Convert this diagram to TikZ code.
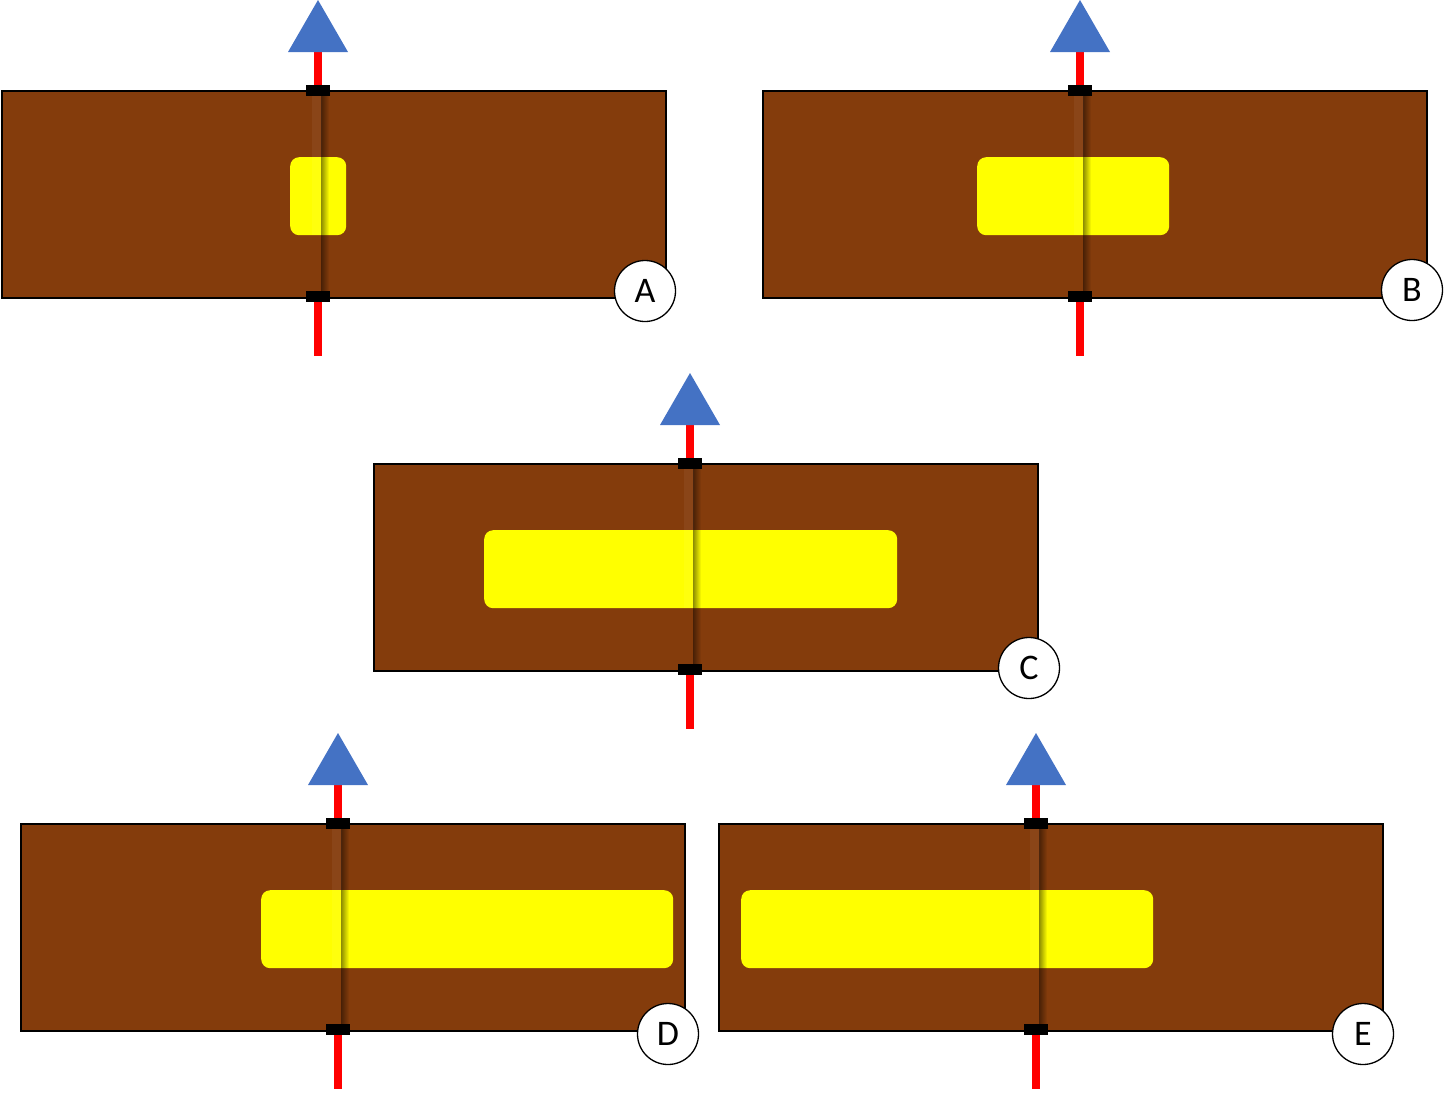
\documentclass[tikz,border=0pt]{standalone}
\usepackage{fontspec}
\setmainfont{Carlito}
\definecolor{soil}{RGB}{132,60,12}
\definecolor{tri}{RGB}{68,114,196}
\definecolor{pool}{RGB}{255,255,0}
\definecolor{rodred}{RGB}{255,0,0}
\tikzset{
  soilbox/.style={fill=soil,draw=black,line width=1.5},
  pool/.style={fill=pool,rounded corners=9},
  redrod/.style={fill=rodred},
  capbox/.style={fill=black},
  tip/.style={fill=tri},
  tag/.style={circle,draw=black,fill=white,line width=1.3,minimum size=61,inner sep=0,font=\fontsize{36}{40}\selectfont},
}
% #1 box left, #2 box top, #3 rod x, #4 yellow left, #5 yellow right, #6 label, #7 circle x, #8 circle y, #9 name
\newcommand\drawpanel[9]{%
  \fill[redrod] (#3-4,#2-40) rectangle (#3+4,#2+266);
  \fill[tip] (#3,#2-90) -- (#3+30,#2-38) -- (#3-30,#2-38) -- cycle;
  \node[soilbox,minimum width=664,minimum height=207,inner sep=0,anchor=north west] (box#9) at (#1,#2) {};
  \node[pool,minimum width=#5-#4,minimum height=78,inner sep=0,anchor=north west] (pool#9) at (#4,#2+67) {};
  \fill[white,opacity=0.05] (#3-6,#2) rectangle (#3+4,#2+145);
  \foreach \i in {0,...,7}{
    \fill[black,opacity={0.45*(1-\i/8)}] (#3+3+\i,#2) rectangle (#3+4+\i,#2+207);
  }
  \fill[capbox] (#3-12,#2-5) rectangle (#3+12,#2+6);
  \fill[capbox] (#3-12,#2+201) rectangle (#3+12,#2+212);
  \node[tag] (tag#9) at (#7,#8) {#6};
}
\begin{document}
\begin{tikzpicture}[x=1pt,y=-1pt]
\useasboundingbox (0,0) rectangle (1446,1095);
\drawpanel{1}{90}{318}{290}{346}{A}{645}{291}{a}
\drawpanel{762}{90}{1080}{977}{1169}{B}{1412}{290}{b}
\drawpanel{373}{463}{690}{484}{897}{C}{1029}{668}{c}
\drawpanel{20}{823}{338}{261}{673}{D}{668}{1034}{d}
\drawpanel{718}{823}{1036}{741}{1153}{E}{1363}{1034}{e}
\end{tikzpicture}
\end{document}
